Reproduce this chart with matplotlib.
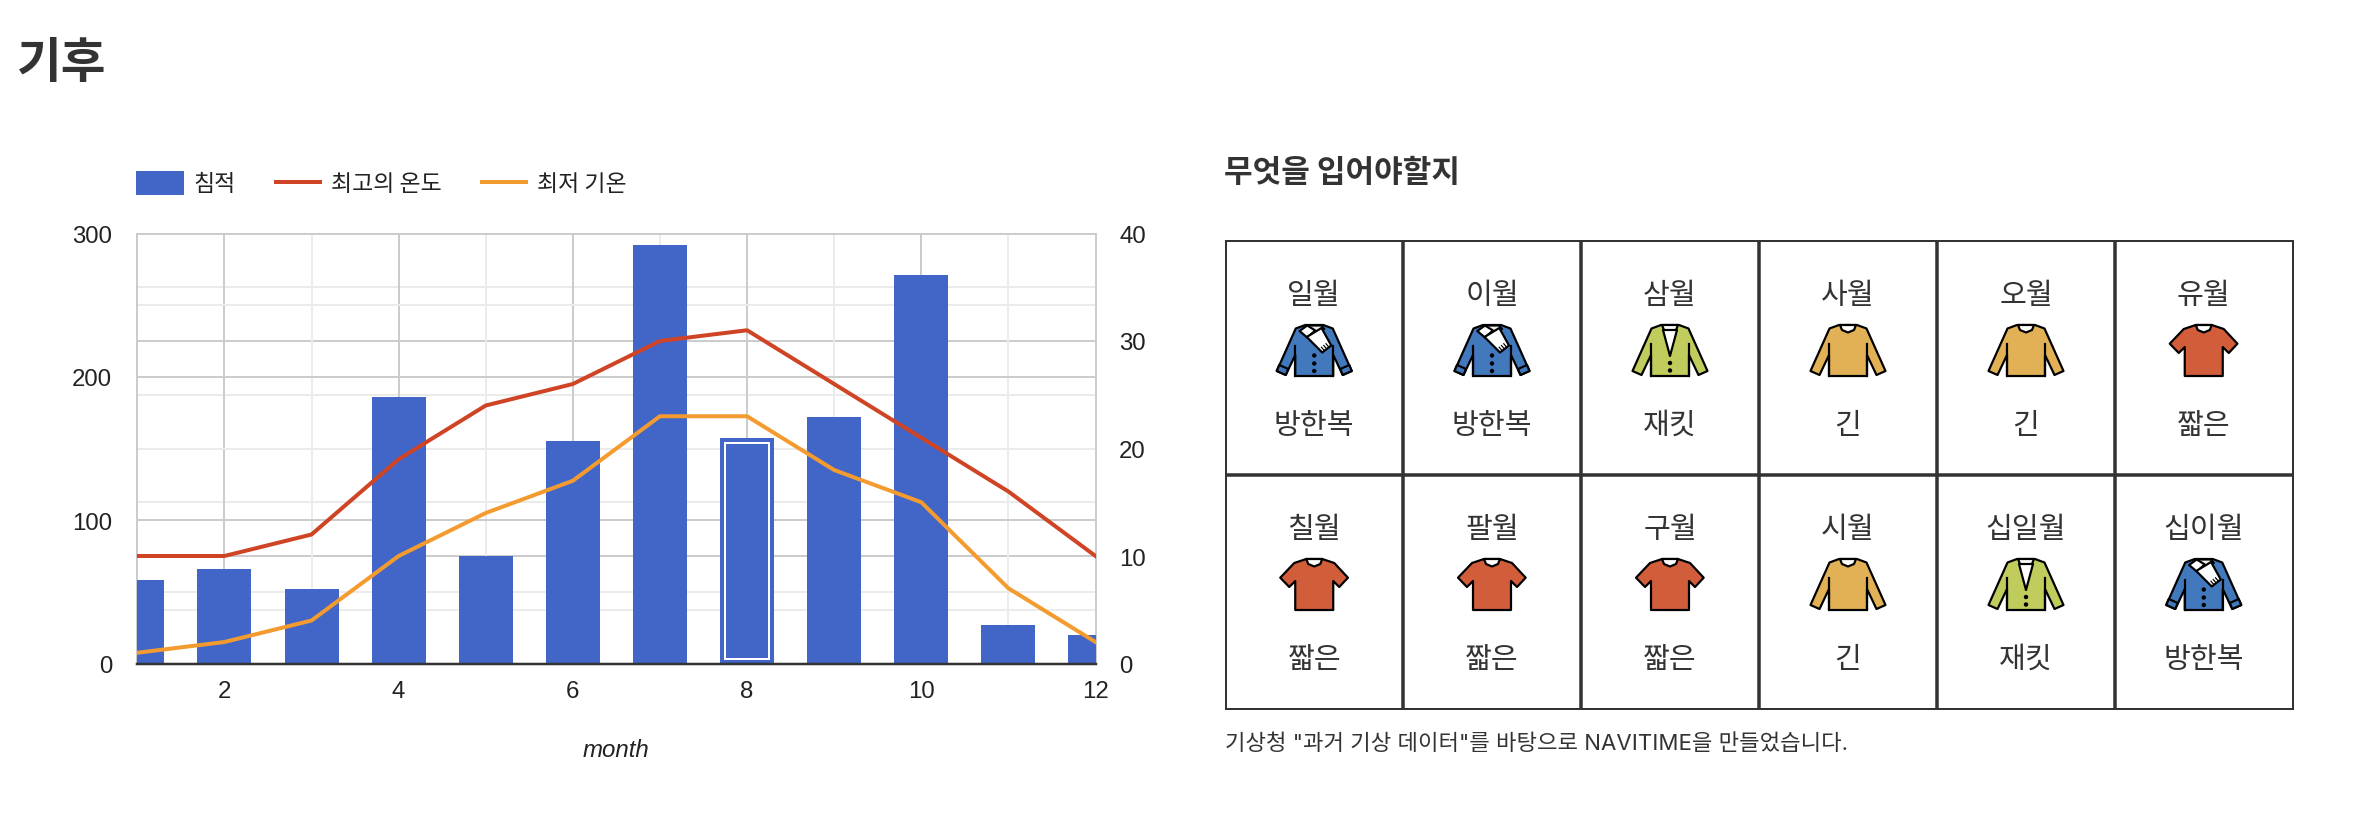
import matplotlib
matplotlib.use("Agg")
import matplotlib.pyplot as plt
from matplotlib.patches import Polygon, Circle, Rectangle
from matplotlib.ticker import MultipleLocator

plt.rcParams['font.family'] = ['Liberation Sans', 'Noto Sans CJK KR', 'DejaVu Sans']
KR = ['Noto Sans CJK KR', 'DejaVu Sans']

# chart data
months = [1, 2, 3, 4, 5, 6, 7, 8, 9, 10, 11, 12]
rain = [58, 66, 52, 186, 75, 155, 292, 157, 172, 271, 27, 20]
temp_high = [10, 10, 12, 19, 24, 26, 30, 31, 26, 21, 16, 10]
temp_low = [1, 2, 4, 10, 14, 17, 23, 23, 18, 15, 7, 2]

# clothing table
month_names = ["일월", "이월", "삼월", "사월", "오월", "유월",
               "칠월", "팔월", "구월", "시월", "십일월", "십이월"]
clothes = ["방한복", "방한복", "재킷", "긴", "긴", "짧은",
           "짧은", "짧은", "짧은", "긴", "재킷", "방한복"]
icon_for = {"방한복": "coat", "재킷": "jacket", "긴": "long", "짧은": "short"}

W, H = 2354, 820
BLUE = "#4166c7"
RED = "#cf4425"
ORANGE = "#f39b2f"
DARK = "#333333"
TICK = "#222222"
px = 72 / 100  # one pixel in points


def to_fig(x0, y0, x1, y1):
    return [x0 / W, 1 - y1 / H, (x1 - x0) / W, (y1 - y0) / H]


fig = plt.figure(figsize=(W / 100, H / 100), dpi=100)

# overlay in pixel coordinates for title, table and legend
page = fig.add_axes([0, 0, 1, 1], zorder=5)
page.set_xlim(0, W)
page.set_ylim(H, 0)
page.axis("off")
page.patch.set_alpha(0)

# gridlines of the right axis go on their own axes under the bars
rect = to_fig(137.3, 234.5, 1095.5, 664.5)
bg = fig.add_axes(rect, zorder=1)
bg.set_xlim(1, 12)
bg.set_ylim(0, 40)
bg.set_xticks([])
bg.set_yticks([])
for s in bg.spines.values():
    s.set_visible(False)
for v in range(5, 40, 5):
    bg.axhline(v, color="#cccccc" if v % 10 == 0 else "#ebebeb", lw=2 * px)

# main chart
ax = fig.add_axes(rect, zorder=2)
ax2 = ax.twinx()
ax2.set_zorder(3)
ax.patch.set_alpha(0)
ax2.patch.set_alpha(0)

ax.set_xlim(1, 12)
ax.set_ylim(0, 300)
ax2.set_ylim(0, 40)
ax.xaxis.set_major_locator(MultipleLocator(2))
ax.xaxis.set_minor_locator(MultipleLocator(1))
ax.yaxis.set_major_locator(MultipleLocator(100))
ax.yaxis.set_minor_locator(MultipleLocator(50))
ax2.yaxis.set_major_locator(MultipleLocator(10))

ax.set_axisbelow(True)
ax.grid(which="minor", color="#ebebeb", lw=2 * px)
ax.grid(which="major", color="#cccccc", lw=2 * px)
ax2.grid(False)

ax.bar(months, rain, width=0.62, color=BLUE, zorder=3)

# focused bar gets a white inner outline
bar_px = ax.get_window_extent().height / 300
inset_y = 5 / bar_px
sel = months.index(8)
ax.bar(months[sel], rain[sel] - 2 * inset_y, bottom=inset_y, width=0.62 - 10 / 87,
       facecolor="none", edgecolor="white", lw=2 * px, zorder=4)

ax2.plot(months, temp_high, color=RED, lw=4 * px, zorder=5)
ax2.plot(months, temp_low, color=ORANGE, lw=4 * px, zorder=5)

for a in (ax, ax2):
    for s in a.spines.values():
        s.set_visible(False)
    a.tick_params(which="both", length=0, labelsize=17.3, labelcolor=TICK)
ax.tick_params(axis="x", pad=12)
ax.tick_params(axis="y", pad=18)
ax2.tick_params(axis="y", pad=17)
for sp in ("top", "left", "right"):
    ax.spines[sp].set_visible(True)
    ax.spines[sp].set_color("#cccccc")
    ax.spines[sp].set_linewidth(2 * px)
ax.spines["bottom"].set_visible(True)
ax.spines["bottom"].set_color(DARK)
ax.spines["bottom"].set_linewidth(2.5 * px)
ax.spines["bottom"].set_zorder(10)
ax.set_xlabel("month", fontstyle="italic", fontsize=17.3, color=TICK, va="center")
ax.xaxis.set_label_coords(0.5, -0.2)

# legend, drawn by hand to sit where the original does
page.add_patch(Rectangle((136, 172), 48, 24, fc=BLUE, ec="none"))
page.text(193, 184.5, "침적", fontsize=16.5, color=TICK, va="center", family=KR)
page.plot([274, 322], [183, 183], color=RED, lw=4 * px, solid_capstyle="butt")
page.text(331, 184.5, "최고의 온도", fontsize=16.5, color=TICK, va="center", family=KR)
page.plot([480, 528], [183, 183], color=ORANGE, lw=4 * px, solid_capstyle="butt")
page.text(537, 184.5, "최저 기온", fontsize=16.5, color=TICK, va="center", family=KR)

page.text(17, 63, "기후", fontsize=35, fontweight="bold", color=DARK, va="center", family=KR)
page.text(1224, 173, "무엇을 입어야할지", fontsize=22.4, fontweight="bold", color=DARK, va="center", family=KR)
page.text(1225, 744, '기상청 "과거 기상 데이터"를 바탕으로 NAVITIME을 만들었습니다.',
          fontsize=16, color=DARK, va="center", family=['Inter', 'Noto Sans CJK KR'])

# table grid
col_x = [1225.5, 1403, 1581, 1759, 1937, 2115, 2292.5]
row_y = [242, 476, 709.5]
for i, x in enumerate(col_x):
    lw = 2 if i in (0, 6) else 3.5
    page.plot([x, x], [row_y[0] - 1, row_y[2] + 1], color=DARK, lw=lw * px, solid_capstyle="butt")
for j, y in enumerate(row_y):
    lw = 2 if j in (0, 2) else 3.5
    page.plot([col_x[0] - 1, col_x[6] + 1], [y, y], color=DARK, lw=lw * px, solid_capstyle="butt")

# clothing icons, local pixels from top centre of the icon
LONG = [(-18.5, 3.5), (-9, 0), (9, 0), (18.5, 3.5), (37.5, 46), (28.5, 50), (19, 30), (19, 51),
        (-19, 51), (-19, 30), (-28.5, 50), (-37.5, 46)]
SHORT = [(-20, 4), (-8, 0), (8, 0), (20, 4), (33.7, 18.7), (25, 28), (19, 22), (19, 51),
         (-19, 51), (-19, 22), (-25, 28), (-34, 18.7)]
NECK = [(-8, 0), (8, 0), (6, 5), (0, 7.5), (-6, 5)]


def poly(cx, top, pts, fc="none", lw=2.2, z=6):
    page.add_patch(Polygon([(cx + a, top + b) for a, b in pts], closed=True, fc=fc, ec="black",
                           lw=lw * px, joinstyle="round", zorder=z))


def seg(cx, top, pts, lw=2.2, z=7):
    page.plot([cx + a for a, b in pts], [top + b for a, b in pts], color="black", lw=lw * px, zorder=z)


def dots(cx, top, pts):
    for a, b in pts:
        page.add_patch(Circle((cx + a, top + b), 2.2, fc="black", ec="none", zorder=8))


def draw_icon(kind, cx, top):
    if kind == "long":
        poly(cx, top, LONG, "#e3b155")
        poly(cx, top, NECK, "white", z=7)
        seg(cx, top, [(-19, 19), (-19, 51)])
        seg(cx, top, [(19, 19), (19, 51)])
    elif kind == "short":
        poly(cx, top, SHORT, "#d15d3b")
        poly(cx, top, NECK, "white", z=7)
    elif kind == "jacket":
        poly(cx, top, LONG, "#c0cc5c")
        poly(cx, top, NECK, "white", z=7)
        poly(cx, top, [(-7, 5), (7, 5), (0, 31)], "white", z=7)
        seg(cx, top, [(-19, 19), (-19, 51)])
        seg(cx, top, [(19, 19), (19, 51)])
        dots(cx, top, [(0, 38), (0, 45.5)])
    else:
        poly(cx, top, LONG, "#4279bd")
        # cuffs
        poly(cx, top, [(28.5, 50), (37.5, 46), (35, 40), (26, 44)], "#4279bd", z=7)
        poly(cx, top, [(-28.5, 50), (-37.5, 46), (-35, 40), (-26, 44)], "#4279bd", z=7)
        seg(cx, top, [(-19, 21), (-19, 51)])
        seg(cx, top, [(19, 21), (19, 51)])
        # scarf
        poly(cx, top, [(-7, 0.5), (7, 0.5), (10, 4), (0, 8)], "#eeeeee", z=7)
        poly(cx, top, [(-14.7, 6), (-7, 0.5), (1, 5.5), (-7, 12.5)], "white", z=8)
        poly(cx, top, [(-7.5, 12), (7.3, 3), (17, 20.5), (8, 27.5)], "white", z=9)
        for t in (0.25, 0.5, 0.75):
            a0, b0 = 8 + 9 * t, 27.5 - 7 * t
            seg(cx, top, [(a0 - 3, b0 - 3.5), (a0, b0)], lw=1.2, z=10)
        dots(cx, top, [(0, 30.5), (0, 38.5), (0, 46)])


for k in range(12):
    r, c = k // 6, k % 6
    cx = (col_x[c] + col_x[c + 1]) / 2
    y0 = row_y[r]
    page.text(cx, y0 + 54.5, month_names[k], fontsize=21, color=DARK, ha="center", va="center", family=KR)
    page.text(cx, y0 + 184, clothes[k], fontsize=21, color=DARK, ha="center", va="center", family=KR)
    draw_icon(icon_for[clothes[k]], cx, y0 + 84)

fig.savefig("out.png", dpi=100)
